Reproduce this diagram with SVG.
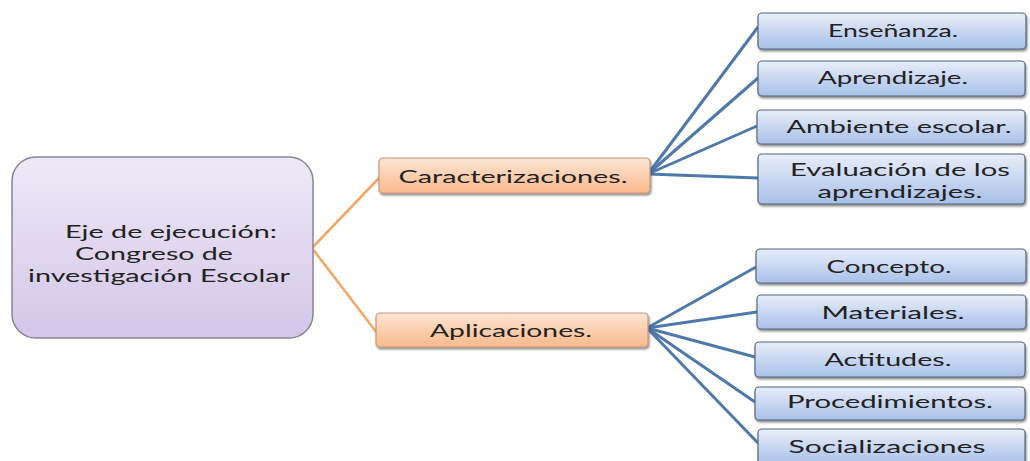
<svg xmlns="http://www.w3.org/2000/svg" width="1030" height="461" viewBox="0 0 1030 461">
<defs>
<linearGradient id="gPurple" x1="0" y1="0" x2="0" y2="1"><stop offset="0" stop-color="#eee9f6"/><stop offset="1" stop-color="#d3c6e8"/></linearGradient>
<linearGradient id="gOrange" x1="0" y1="0" x2="0" y2="1"><stop offset="0" stop-color="#fde6d4"/><stop offset="1" stop-color="#f9b98a"/></linearGradient>
<linearGradient id="gBlue" x1="0" y1="0" x2="0" y2="1"><stop offset="0" stop-color="#e8eefa"/><stop offset="1" stop-color="#a8c0e8"/></linearGradient>
<filter id="sh" x="-5%" y="-20%" width="110%" height="150%"><feDropShadow dx="1" dy="2" stdDeviation="1.2" flood-color="#333" flood-opacity="0.55"/></filter>
</defs>
<style>
.t{font-family:Lato,"Open Sans","Liberation Sans",sans-serif;font-size:18px;fill:#222;text-anchor:middle}
.main{fill:url(#gPurple);stroke:#8a8496;stroke-width:1.5}
.or{fill:url(#gOrange);stroke:#c8967a;stroke-width:1.2;filter:url(#sh)}
.bl{fill:url(#gBlue);stroke:#55667f;stroke-width:1.2;filter:url(#sh)}
.cb{stroke:#4f79ab;stroke-width:3;fill:none}
.co{stroke:#f2a866;stroke-width:2.6;fill:none}
</style>
<rect width="1030" height="461" fill="#ffffff"/>
<g id="connectors">
<line class="co" x1="312" y1="248" x2="380" y2="177"/>
<line class="co" x1="312" y1="248" x2="377" y2="333"/>
<line class="cb" x1="648" y1="174" x2="758" y2="27"/>
<line class="cb" x1="648" y1="174" x2="758" y2="78"/>
<line class="cb" x1="648" y1="174" x2="757" y2="126"/>
<line class="cb" x1="648" y1="174" x2="758" y2="178"/>
<line class="cb" x1="647" y1="328" x2="756" y2="267"/>
<line class="cb" x1="647" y1="328" x2="757" y2="312"/>
<line class="cb" x1="647" y1="328" x2="755" y2="357"/>
<line class="cb" x1="647" y1="328" x2="755" y2="402"/>
<line class="cb" x1="647" y1="328" x2="758" y2="443"/>
</g>
<g id="main">
<rect class="main" x="12" y="157" width="301" height="181" rx="24"/>
<text class="t" x="171" y="238" textLength="212" lengthAdjust="spacingAndGlyphs">Eje de ejecución:</text>
<text class="t" x="154" y="260" textLength="158" lengthAdjust="spacingAndGlyphs">Congreso de</text>
<text class="t" x="159" y="282" textLength="262" lengthAdjust="spacingAndGlyphs">investigación Escolar</text>
</g>
<g id="caracterizaciones">
<rect class="or" x="379" y="158" width="271" height="35" rx="4"/>
<text class="t" x="513" y="183" textLength="229" lengthAdjust="spacingAndGlyphs">Caracterizaciones.</text>
</g>
<g id="aplicaciones">
<rect class="or" x="376" y="313" width="272" height="34" rx="4"/>
<text class="t" x="511" y="337" textLength="162" lengthAdjust="spacingAndGlyphs">Aplicaciones.</text>
</g>
<g id="ensenanza">
<rect class="bl" x="758" y="13" width="268" height="36" rx="4"/>
<text class="t" x="893" y="37" textLength="130" lengthAdjust="spacingAndGlyphs">Enseñanza.</text>
</g>
<g id="aprendizaje">
<rect class="bl" x="758" y="61" width="267" height="35" rx="4"/>
<text class="t" x="893" y="84" textLength="150" lengthAdjust="spacingAndGlyphs">Aprendizaje.</text>
</g>
<g id="ambiente">
<rect class="bl" x="757" y="110" width="268" height="34" rx="4"/>
<text class="t" x="899" y="133" textLength="225" lengthAdjust="spacingAndGlyphs">Ambiente escolar.</text>
</g>
<g id="evaluacion">
<rect class="bl" x="758" y="154" width="267" height="50" rx="4"/>
<text class="t" x="900" y="176" textLength="220" lengthAdjust="spacingAndGlyphs">Evaluación de los</text>
<text class="t" x="900" y="198" textLength="165" lengthAdjust="spacingAndGlyphs">aprendizajes.</text>
</g>
<g id="concepto">
<rect class="bl" x="756" y="249" width="270" height="34" rx="4"/>
<text class="t" x="889" y="273" textLength="125" lengthAdjust="spacingAndGlyphs">Concepto.</text>
</g>
<g id="materiales">
<rect class="bl" x="757" y="295" width="269" height="34" rx="4"/>
<text class="t" x="893" y="319" textLength="143" lengthAdjust="spacingAndGlyphs">Materiales.</text>
</g>
<g id="actitudes">
<rect class="bl" x="755" y="342" width="270" height="35" rx="4"/>
<text class="t" x="888" y="366" textLength="127" lengthAdjust="spacingAndGlyphs">Actitudes.</text>
</g>
<g id="procedimientos">
<rect class="bl" x="755" y="387" width="270" height="33" rx="4"/>
<text class="t" x="890" y="408" textLength="206" lengthAdjust="spacingAndGlyphs">Procedimientos.</text>
</g>
<g id="socializaciones">
<rect class="bl" x="758" y="429" width="267" height="36" rx="4"/>
<text class="t" x="887" y="453" textLength="197" lengthAdjust="spacingAndGlyphs">Socializaciones</text>
</g>
</svg>
